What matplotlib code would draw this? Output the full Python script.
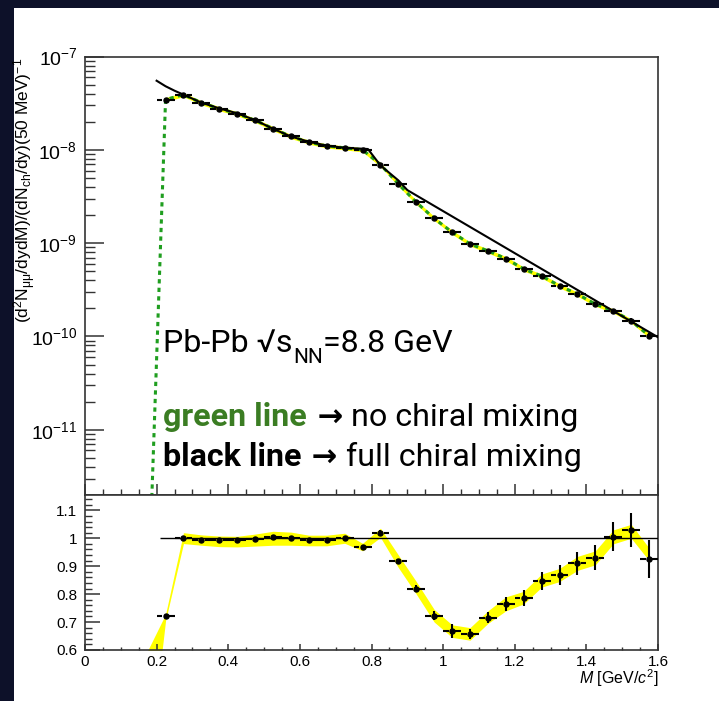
import numpy as np
import matplotlib
matplotlib.use('Agg')
import matplotlib.pyplot as plt
from matplotlib.patches import Rectangle
from matplotlib.ticker import MultipleLocator, NullFormatter, FixedLocator, LogFormatterSciNotation

# invariant mass bin centres [GeV/c^2], 50 MeV bins
m = np.array([0.225, 0.275, 0.325, 0.375, 0.425, 0.475, 0.525, 0.575, 0.625,
              0.675, 0.725, 0.775, 0.825, 0.875, 0.925, 0.975, 1.025, 1.075,
              1.125, 1.175, 1.225, 1.275, 1.325, 1.375, 1.425, 1.475, 1.525, 1.575])
yield_pts = np.array([3.46e-8, 3.9e-8, 3.2e-8, 2.76e-8, 2.44e-8, 2.07e-8, 1.69e-8, 1.39e-8,
                      1.21e-8, 1.10e-8, 1.05e-8, 1.0e-8, 6.95e-9, 4.3e-9, 2.74e-9, 1.84e-9,
                      1.31e-9, 9.8e-10, 8.26e-10, 6.84e-10, 5.28e-10, 4.44e-10, 3.49e-10,
                      2.84e-10, 2.22e-10, 1.88e-10, 1.47e-10, 1.02e-10])
ratio = np.array([0.721, 1.0, 0.995, 0.992, 0.992, 0.997, 1.005, 1.002, 0.994, 0.994,
                  1.0, 0.967, 1.02, 0.917, 0.82, 0.723, 0.668, 0.656, 0.715, 0.764,
                  0.787, 0.848, 0.869, 0.91, 0.931, 1.005, 1.029, 0.927])
ratio_err = np.array([0.008, 0.006, 0.006, 0.006, 0.006, 0.006, 0.006, 0.006, 0.006, 0.006,
                      0.006, 0.006, 0.008, 0.01, 0.012, 0.015, 0.025, 0.018, 0.02, 0.025,
                      0.028, 0.032, 0.035, 0.042, 0.046, 0.052, 0.06, 0.068])

# full chiral mixing (black)
black_m = [0.2, 0.225, 0.25, 0.275, 0.325, 0.375, 0.425, 0.475, 0.525, 0.575, 0.625,
           0.675, 0.725, 0.79, 0.825, 0.875, 0.9, 1.6]
black_y = [5.5e-8, 4.8e-8, 4.3e-8, 3.9e-8, 3.2e-8, 2.78e-8, 2.46e-8, 2.08e-8, 1.68e-8,
           1.39e-8, 1.22e-8, 1.11e-8, 1.05e-8, 1.02e-8, 6.8e-9, 4.7e-9, 3.7e-9, 9.8e-11]

# no chiral mixing (green): steep rise below first bin, then through the points
green_m = [0.18] + list(m)
green_y = [3.5e-13] + list(yield_pts)

# ratio uncertainty band
band_m = [0.17, 0.225, 0.275, 0.325, 0.375, 0.425, 0.475, 0.525, 0.575, 0.625, 0.675,
          0.725, 0.775, 0.825, 0.875, 0.925, 0.975, 1.025, 1.075, 1.125, 1.175, 1.225,
          1.275, 1.325, 1.375, 1.425, 1.475, 1.525, 1.575]
band_lo = [0.10, 0.705, 0.981, 0.975, 0.97, 0.969, 0.972, 0.975, 0.975, 0.973, 0.973,
           0.982, 0.955, 1.003, 0.895, 0.80, 0.70, 0.645, 0.635, 0.695, 0.74, 0.765,
           0.825, 0.845, 0.885, 0.905, 0.98, 1.0, 0.92]
band_hi = [0.585, 0.728, 1.02, 1.012, 1.008, 1.007, 1.015, 1.025, 1.022, 1.011, 1.011,
           1.018, 0.982, 1.036, 0.94, 0.845, 0.745, 0.69, 0.68, 0.74, 0.79, 0.81,
           0.872, 0.892, 0.935, 0.955, 1.03, 1.05, 0.965]

# axis ticks
y_decades = [1e-11, 1e-10, 1e-9, 1e-8, 1e-7]
half_bin = 0.025
gap = 0.009

plt.rcParams['font.family'] = ['Liberation Sans', 'DejaVu Sans']
plt.rcParams['mathtext.fontset'] = 'custom'
plt.rcParams['mathtext.rm'] = 'Liberation Sans'
plt.rcParams['mathtext.it'] = 'Liberation Sans:italic'
plt.rcParams['mathtext.bf'] = 'Liberation Sans:bold'

fig = plt.figure(figsize=(7.19, 7.01), dpi=100, facecolor='#0d1129')
fig.patches.append(Rectangle((14/719, 0), 1, 693/701, transform=fig.transFigure,
                             facecolor='white', edgecolor='none', zorder=-5))

ax1 = fig.add_axes([0.1182, 0.2939, 0.797, 0.6255])
ax2 = fig.add_axes([0.1182, 0.0728, 0.797, 0.2211])

def hbars(ax, x, y):
    ax.hlines(y, x - half_bin, x - gap, color='black', lw=1.5, zorder=5)
    ax.hlines(y, x + gap, x + half_bin, color='black', lw=1.5, zorder=5)

# ---- top panel ----
ax1.fill_between(m, yield_pts * 0.95, yield_pts * 1.05, color='#ffff00', lw=0, zorder=1)
ax1.plot(green_m, green_y, color='#1f9e1f', lw=2.2, ls=(0, (1.4, 1.4)), zorder=2)
ax1.plot(black_m, black_y, color='black', lw=1.5, zorder=3)
hbars(ax1, m, yield_pts)
ax1.vlines(m, yield_pts * (1 - ratio_err), yield_pts * (1 + ratio_err), color='black', lw=1.5, zorder=5)
ax1.plot(m, yield_pts, 'o', color='black', ms=3.6, zorder=6)

ax1.set_yscale('log')
ax1.set_xlim(0, 1.6)
ax1.set_ylim(2e-12, 1e-7)
ax1.xaxis.set_major_locator(MultipleLocator(0.2))
ax1.xaxis.set_minor_locator(MultipleLocator(0.05))
ax1.yaxis.set_major_locator(FixedLocator(y_decades))
ax1.yaxis.set_major_formatter(LogFormatterSciNotation())
minor_y = [k * d for d in [1e-12] + y_decades[:-1] for k in range(2, 10)]
ax1.yaxis.set_minor_locator(FixedLocator([v for v in minor_y if v >= 2e-12]))
ax1.yaxis.set_minor_formatter(NullFormatter())
ax1.tick_params(which='both', direction='in', top=False, right=False, labelbottom=False, color='#333333')
ax1.tick_params(axis='y', which='major', length=13.7, width=1.1, labelsize=14, pad=5.5)
ax1.tick_params(axis='y', which='minor', length=7.2, width=1.0)
ax1.tick_params(axis='x', which='major', length=8, width=1.1)
ax1.tick_params(axis='x', which='minor', length=4, width=1.0)
ax1.set_ylabel(r'$(\mathrm{d}^{2}\mathrm{N}_{\mathrm{\mu\mu}}/\mathrm{dydM})/(\mathrm{dN}_{\mathrm{ch}}/\mathrm{dy})(50\ \mathrm{MeV})^{-1}$',
               fontsize=12.5, ha='right', va='center')
ax1.yaxis.set_label_coords(-0.105, 0.997)

for ax in (ax1, ax2):
    for s in ax.spines.values():
        s.set_color('#333333')
        s.set_linewidth(1.2)

# annotation text (Roboto)
tfam = ['Roboto', 'DejaVu Sans']
x0 = 0.136
fs = 23.2
t1 = ax1.text(x0, 0.3268, 'Pb-Pb \u221as', transform=ax1.transAxes, fontsize=fs,
              family=tfam, va='baseline', ha='left')
t2 = ax1.annotate('NN', xy=(1, 0.3268), xycoords=(t1, 'axes fraction'),
                  xytext=(0.5, -8.4), textcoords='offset points',
                  fontsize=15, family=tfam, va='baseline', ha='left')
ax1.annotate('=8.8 GeV', xy=(1, 0.3268), xycoords=(t2, 'axes fraction'),
             fontsize=fs, family=tfam, va='baseline', ha='left')

legend_rows = [('green line', '#3b7d23', 'no chiral mixing', 0.1562),
               ('black line', 'black', 'full chiral mixing', 0.0650)]
for bold_txt, col, rest, yb in legend_rows:
    ta = ax1.text(x0, yb, bold_txt, transform=ax1.transAxes, fontsize=fs,
                  family=tfam, fontweight='bold', color=col, va='baseline', ha='left')
    tb = ax1.annotate(' \u2192', xy=(1, yb), xycoords=(ta, 'axes fraction'),
                      fontsize=fs * 0.95, family=['DejaVu Sans'], fontweight='bold',
                      va='baseline', ha='left')
    ax1.annotate(' ' + rest, xy=(1, yb), xycoords=(tb, 'axes fraction'),
                 fontsize=fs, family=tfam, va='baseline', ha='left')

# ---- ratio panel ----
ax2.fill_between(band_m, band_lo, band_hi, color='#ffff00', lw=0, zorder=1)
ax2.hlines(1.0, 0.21, 1.6, color='black', lw=1.0, zorder=3)
hbars(ax2, m, ratio)
ax2.vlines(m, ratio - ratio_err, ratio + ratio_err, color='black', lw=1.5, zorder=5)
ax2.plot(m, ratio, 'o', color='black', ms=3.6, zorder=6)

ax2.set_xlim(0, 1.6)
ax2.set_ylim(0.6, 1.155)
xmaj = [0, 0.2, 0.4, 0.6, 0.8, 1.0, 1.2, 1.4, 1.6]
ymaj = [0.6, 0.7, 0.8, 0.9, 1.0, 1.1]
ax2.set_xticks(xmaj)
ax2.set_xticklabels(['0', '0.2', '0.4', '0.6', '0.8', '1', '1.2', '1.4', '1.6'])
ax2.set_yticks(ymaj)
ax2.set_yticklabels(['0.6', '0.7', '0.8', '0.9', '1', '1.1'])
ax2.xaxis.set_minor_locator(FixedLocator([0.05 * k for k in range(33) if k % 4]))
ax2.yaxis.set_minor_locator(FixedLocator([0.6 + 0.02 * k for k in range(28) if k % 5]))
ax2.tick_params(which='both', direction='in', top=False, right=False, color='#333333', labelsize=11)
ax2.tick_params(axis='y', which='major', length=10.8, width=1.1, pad=5.5)
ax2.tick_params(axis='y', which='minor', length=5, width=1.0)
ax2.tick_params(axis='x', which='major', length=4.3, width=1.1, pad=3.5)
ax2.tick_params(axis='x', which='minor', length=2.2, width=1.0)
ax2.set_xlabel(r'$M$ [GeV/$c^{2}$]', fontsize=11.5, ha='right', va='top')
ax2.xaxis.set_label_coords(1.0, -0.115)

fig.savefig('out.png', dpi=100, facecolor=fig.get_facecolor())
